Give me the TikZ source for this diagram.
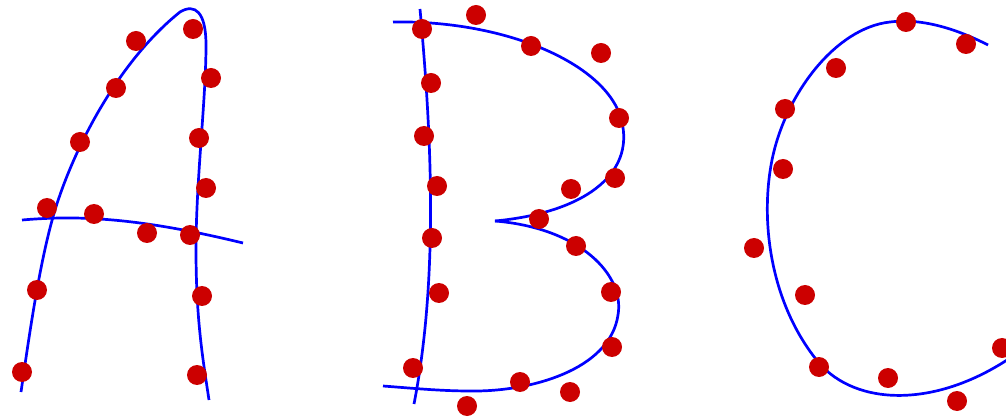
\documentclass[tikz,border=0pt]{standalone}
\definecolor{dotred}{RGB}{204,0,0}
\definecolor{lineblue}{RGB}{0,0,255}
\tikzset{
  stroke/.style={draw=lineblue, line width=2.7pt, line cap=butt},
  dot/.style={circle, fill=dotred, minimum size=20pt, inner sep=0pt, draw=none}
}
\begin{document}
\begin{tikzpicture}[x=1pt, y=-1pt]
\useasboundingbox (0,0) rectangle (1006,419);
% A
\draw[stroke] (21,392) .. controls (30,330) and (40,260) .. (55,210)
  .. controls (75,145) and (120,60) .. (180,12)
  .. controls (195,3) and (206,12) .. (206,45)
  .. controls (206,100) and (196,180) .. (196,250)
  .. controls (196,320) and (203,360) .. (209,400);
\draw[stroke] (22,220) .. controls (80,215) and (140,218) .. (243,243);
% B
\draw[stroke] (420,9) .. controls (430,120) and (440,270) .. (414,404);
\draw[stroke] (393,22) .. controls (500,20) and (600,60) .. (620,115)
  .. controls (638,170) and (590,212) .. (495,221);
\draw[stroke] (495,221) .. controls (580,228) and (625,275) .. (618,315)
  .. controls (610,370) and (530,392) .. (470,391)
  .. controls (440,391) and (410,388) .. (383,386);
% C
\draw[stroke] (988,45) .. controls (955,28) and (920,18) .. (890,22)
  .. controls (835,28) and (785,95) .. (772,160)
  .. controls (760,220) and (770,300) .. (815,358)
  .. controls (850,405) and (930,410) .. (1007,360);
% dots A
\foreach \p [count=\i] in {(136,41),(193,29),(211,78),(116,88),(80,142),(199,138),(206,188),(47,208),(94,214),(147,233),(190,235),(37,290),(202,296),(22,372),(197,375)}
  \node[dot] (a\i) at \p {};
% dots B
\foreach \p [count=\i] in {(422,29),(476,15),(531,46),(601,53),(431,83),(619,118),(424,136),(615,178),(571,189),(437,186),(539,219),(432,238),(576,246),(439,293),(611,292),(612,347),(413,368),(520,382),(570,392),(467,406)}
  \node[dot] (b\i) at \p {};
% dots C
\foreach \p [count=\i] in {(906,22),(966,44),(836,68),(785,109),(783,169),(754,248),(805,295),(819,367),(888,378),(957,401),(1002,348)}
  \node[dot] (c\i) at \p {};
\end{tikzpicture}
\end{document}
